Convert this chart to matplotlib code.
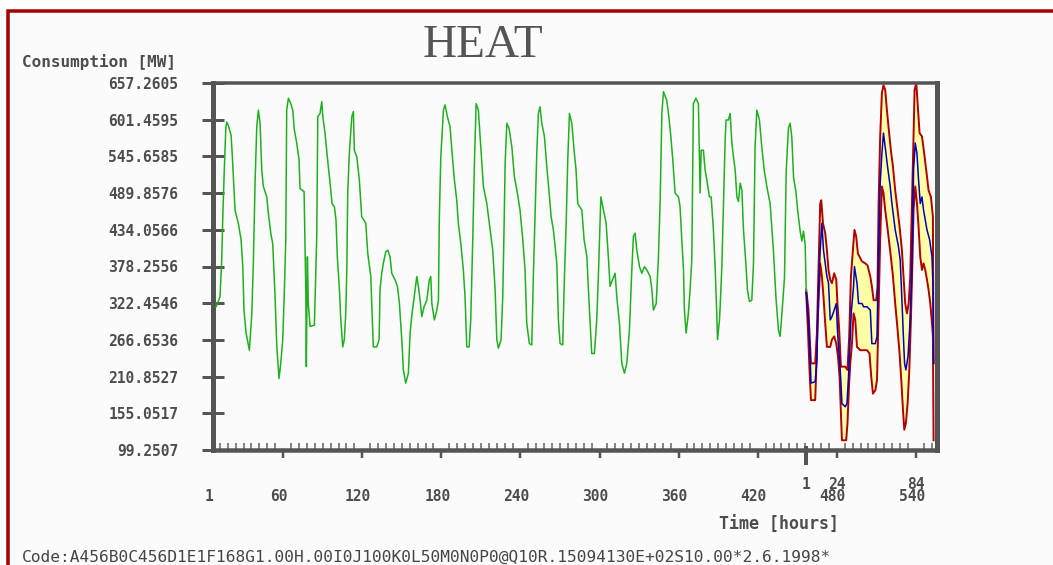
"""HEAT consumption chart: measured history followed by a forecast band."""

import matplotlib

matplotlib.use("Agg")

import matplotlib.pyplot as plt
import matplotlib.transforms as mtransforms
import numpy as np
from matplotlib.patches import Rectangle
from matplotlib.ticker import MultipleLocator


# history (hours on the chart's own scale, MW)
HIST_HOUR = [
    9.1, 12.1, 13.4, 14.2, 15.2, 16.5, 17.2, 18.4, 20.5, 21.5, 23.5, 26.0, 28.1, 29.4, 30.3,
    31.9, 34.4, 36.2, 37.4, 38.7, 40.0, 41.2, 42.5, 43.8, 45.0, 47.6, 48.8, 50.6, 52.1, 53.9,
    55.2, 56.9, 58.2, 59.7, 60.7, 62.0, 62.7, 64.0, 65.8, 67.3, 68.5, 70.3, 72.1, 72.8, 75.9,
    77.2, 77.6, 78.4, 79.1, 80.4, 83.7, 84.2, 85.5, 86.3, 88.0, 89.3, 90.1, 91.8, 93.5, 95.6,
    97.1, 98.9, 100.1, 101.1, 102.7, 103.7, 105.2, 106.4, 107.5, 108.3, 109.0, 110.2, 112.1,
    113.3, 114.0, 115.9, 117.8, 119.6, 122.7, 124.2, 126.5, 127.7, 128.4, 131.0, 132.8, 133.5,
    134.8, 136.0, 137.9, 139.4, 141.1, 142.4, 144.9, 146.7, 148.2, 149.2, 150.2, 151.2, 153.0,
    155.0, 156.3, 157.8, 160.1, 161.4, 162.6, 163.9, 165.2, 166.9, 169.0, 170.9, 172.0, 172.8,
    174.7, 176.6, 177.8, 178.5, 179.6, 181.6, 182.8, 184.6, 186.6, 188.4, 189.9, 191.7, 192.9,
    194.8, 196.7, 198.0, 199.3, 201.1, 202.3, 203.9, 205.1, 206.4, 208.1, 209.4, 211.9, 214.5,
    217.0, 219.0, 220.8, 222.1, 223.3, 225.3, 226.6, 227.6, 228.4, 229.7, 231.4, 233.5, 235.4,
    237.7, 239.7, 241.8, 243.5, 244.8, 246.8, 248.6, 249.8, 251.1, 252.4, 253.6, 254.9, 256.2,
    258.2, 260.0, 261.8, 263.3, 265.0, 267.6, 268.8, 270.1, 272.1, 273.1, 274.7, 275.9, 277.2,
    279.0, 280.7, 282.2, 283.5, 286.6, 288.3, 290.4, 292.1, 294.1, 296.1, 297.9, 299.2, 301.0,
    303.0, 305.0, 306.7, 308.0, 309.8, 311.8, 313.1, 315.1, 316.9, 318.9, 320.7, 322.7, 324.5,
    325.7, 327.0, 328.3, 330.3, 332.1, 334.1, 335.9, 338.4, 339.7, 340.9, 343.0, 344.7, 346.0,
    347.3, 348.5, 351.0, 352.3, 354.1, 355.6, 357.3, 359.9, 361.1, 362.4, 363.7, 364.4, 365.7,
    367.4, 368.7, 370.0, 371.2, 373.1, 375.0, 376.3, 377.1, 378.8, 380.1, 381.4, 383.4, 384.7,
    386.4, 387.7, 389.0, 389.5, 391.0, 391.5, 392.8, 394.0, 395.3, 396.0, 397.8, 399.1, 400.4,
    401.6, 402.9, 404.2, 405.4, 406.7, 408.0, 409.2, 411.0, 412.2, 413.7, 415.5, 416.8, 418.0,
    419.3, 421.3, 423.1, 424.9, 426.9, 429.4, 431.9, 433.8, 435.7, 437.0, 438.3, 440.3, 441.6,
    443.3, 444.6, 445.9, 447.2, 448.9, 450.4, 452.2, 453.5, 454.7, 456.0, 456.8,
]
HIST_MW = [
    317, 332, 386, 452, 515, 588, 598, 593, 578, 545, 464, 444, 419, 378, 312,
    277, 251, 305, 383, 505, 591, 616, 596, 525, 500, 484, 459, 429, 413, 332,
    256, 208, 231, 267, 327, 416, 616, 634, 626, 616, 586, 566, 540, 497, 492,
    340, 226, 393, 322, 287, 289, 327, 424, 606, 611, 629, 606, 581, 545, 505,
    474, 469, 449, 393, 343, 299, 256, 267, 307, 373, 490, 550, 606,
    614, 555, 545, 510, 454, 444, 398, 363, 297, 256, 256, 267, 343,
    368, 383, 401, 403, 393, 368, 358, 348, 322, 292, 261, 221, 201,
    216, 277, 307, 343, 363, 348, 327, 302, 317, 327, 358, 363, 322,
    297, 312, 327, 454, 545, 616, 624, 606, 591, 545, 510, 479, 444,
    413, 373, 332, 256, 256, 297, 424, 535, 626, 616, 576, 500, 474,
    434, 403, 343, 267, 254, 267, 332, 439, 535, 596, 588, 560, 515,
    490, 464, 419, 373, 292, 261, 259, 363, 454, 550, 611, 621, 596,
    576, 530, 490, 454, 434, 383, 297, 261, 259, 343, 444, 540, 611,
    596, 555, 525, 474, 464, 419, 393, 322, 246, 246, 297, 368, 484,
    464, 444, 393, 348, 358, 368, 332, 292, 231, 216, 231, 282, 373,
    424, 429, 403, 378, 368, 378, 373, 363, 343, 312, 322, 393, 479,
    611, 644, 631, 611, 576, 540, 490, 484, 469, 419, 373, 312, 277,
    307, 343, 388, 626, 634, 626, 490, 555, 555, 525, 510, 484, 484,
    434, 378, 302, 267, 297, 317, 378, 469, 571, 601, 601, 611, 566,
    545, 525, 484, 477, 505, 494, 434, 383, 343, 325, 327, 383, 560,
    616, 601, 560, 525, 500, 474, 403, 332, 282, 272, 305, 361, 523,
    589, 596, 574, 513, 493, 462, 432, 417, 432, 411, 341,
]

# forecast hour 1 sits right where the history ends
FORECAST_OFFSET = 455.8

FC_MEAN_HOUR = [
    1.0, 2.7, 4.0, 4.6, 7.8, 9.1, 10.3, 11.6, 12.9, 14.1, 15.4, 16.7, 17.9, 19.2, 20.5,
    22.2, 23.8, 24.7, 25.5, 26.8, 28.1, 30.6, 31.9, 33.1, 34.4, 35.1, 36.9, 37.6, 39.5, 40.7,
    43.3, 44.5, 47.1, 49.6, 50.8, 53.4, 54.7, 55.4, 56.4, 57.1, 58.4, 59.6, 60.9, 62.7, 64.7,
    66.0, 68.5, 71.0, 72.3, 73.6, 74.8, 75.6, 76.6, 78.2, 79.4, 80.7, 81.7, 82.4, 83.7, 85.0,
    86.2, 87.5, 88.8, 90.0, 91.3, 92.6, 94.6, 96.4, 97.1, 97.6,
]
FC_MEAN_MW = [
    340, 292, 241, 201, 203, 236, 343, 403, 444, 403, 383, 363, 353, 297, 302,
    312, 322, 282, 256, 221, 170, 165, 170, 211, 272, 307, 348, 378, 353, 322,
    322, 317, 317, 312, 261, 261, 272, 353, 444, 505, 550, 581, 560, 530, 500,
    474, 434, 408, 388, 327, 267, 231, 221, 241, 282, 348, 429, 525, 566, 550,
    510, 474, 484, 464, 449, 434, 419, 393, 353, 231,
]

FC_UPPER_HOUR = [
    1.0, 2.7, 4.0, 4.6, 7.8, 9.1, 10.3, 11.6, 12.4, 13.7, 15.4, 16.7, 17.9, 19.2, 20.5,
    22.2, 23.8, 24.7, 26.0, 27.3, 30.6, 32.3, 33.6, 34.9, 36.4, 37.6, 38.9, 40.2, 43.3, 45.8,
    47.5, 49.6, 50.8, 52.1, 54.1, 55.1, 55.9, 57.1, 58.4, 59.6, 60.9, 62.2, 63.4, 65.2, 66.8,
    68.5, 70.3, 71.8, 73.6, 74.8, 76.1, 77.4, 78.7, 79.9, 81.2, 82.4, 83.2, 84.5, 85.5, 87.0,
    88.8, 90.5, 92.6, 93.8, 95.6, 97.1, 97.6,
]
FC_UPPER_MW = [
    343, 312, 256, 231, 231, 277, 373, 474, 479, 444, 429, 403, 373, 358, 353,
    368, 358, 322, 282, 226, 226, 221, 272, 363, 403, 434, 424, 398, 386, 383,
    380, 363, 348, 327, 327, 348, 474, 576, 642, 654, 647, 616, 591, 555, 530,
    494, 464, 439, 403, 363, 322, 307, 322, 363, 474, 576, 647, 657, 626, 581,
    576, 550, 515, 494, 484, 454, 231,
]

FC_LOWER_HOUR = [
    1.0, 2.3, 3.5, 4.6, 7.8, 8.6, 9.6, 10.9, 11.6, 12.9, 14.1, 15.4, 16.7, 19.2, 20.5,
    22.2, 23.8, 25.1, 26.3, 27.6, 28.1, 31.3, 32.3, 33.4, 34.4, 35.7, 36.9, 38.2, 39.5, 42.0,
    47.1, 49.0, 50.3, 51.6, 53.4, 54.7, 55.9, 57.1, 58.4, 59.6, 60.9, 62.2, 63.4, 65.2, 66.8,
    68.5, 70.3, 71.8, 73.1, 74.4, 75.4, 76.6, 77.9, 79.2, 80.4, 81.4, 82.4, 83.7, 85.0, 86.2,
    87.5, 88.8, 90.0, 91.3, 92.6, 93.8, 95.1, 96.4, 97.1, 97.6,
]
FC_LOWER_MW = [
    338, 282, 221, 175, 175, 221, 292, 348, 383, 363, 332, 292, 256, 256, 267,
    272, 261, 241, 211, 140, 114, 114, 140, 195, 231, 261, 307, 297, 256, 251,
    251, 246, 211, 185, 190, 206, 312, 419, 500, 490, 464, 444, 424, 393, 363,
    322, 282, 246, 206, 160, 130, 140, 170, 221, 297, 373, 464, 500, 474, 439,
    393, 373, 383, 373, 358, 343, 322, 292, 272, 114,
]

Y_TICKS = [99.2507, 155.0517, 210.8527, 266.6536, 322.4546, 378.2556,
           434.0566, 489.8576, 545.6585, 601.4595, 657.2605]
Y_TICK_LABELS = ["99.2507", "155.0517", "210.8527", "266.6536", "322.4546", "378.2556",
                 "434.0566", "489.8576", "545.6585", "601.4595", "657.2605"]

X_TICKS = [60, 120, 180, 240, 300, 360, 420, 480, 540]
X_TICK_LABELS = ["60", "120", "180", "240", "300", "360", "420", "480", "540"]
FC_TICKS = [1, 24, 84]
FC_TICK_LABELS = ["1", "24", "84"]

CODE_TEXT = "Code:A456B0C456D1E1F168G1.00H.00I0J100K0L50M0N0P0@Q10R.15094130E+02S10.00*2.6.1998*"

W, H = 1053, 565
PT = 72 / 100  # points per pixel at dpi 100
MONO = "DejaVu Sans Mono"
GRAY = "#555555"
TEXT_GRAY = "#4d4d4d"


def plot_heat(path="out.png"):
    fig = plt.figure(figsize=(W / 100, H / 100), dpi=100, facecolor="white")

    # window frame: dark red edge on the left and top
    fig.patches.append(
        Rectangle(
            (8 / W, -0.1), 1.2, 1.1 - 11 / H,
            transform=fig.transFigure, facecolor="#fbfbfb",
            edgecolor="#a80000", linewidth=3.5 * PT, zorder=-5,
        )
    )

    ax = fig.add_axes([213 / W, 1 - 450 / H, (937 - 213) / W, (450 - 83) / H])
    ax.set_zorder(2)
    ax.patch.set_visible(False)

    x_first = 6.8
    ax.set_xlim(x_first, 556)
    ax.set_ylim(Y_TICKS[0], Y_TICKS[-1])

    fc_x = lambda hours: np.asarray(hours) + FORECAST_OFFSET

    ax.fill(
        np.r_[fc_x(FC_UPPER_HOUR), fc_x(FC_LOWER_HOUR)[::-1]],
        np.r_[FC_UPPER_MW, FC_LOWER_MW[::-1]],
        facecolor="#ffffa6", edgecolor="none", zorder=1,
    )
    ax.plot(fc_x(FC_UPPER_HOUR), FC_UPPER_MW, color="#b00000", linewidth=1.4, zorder=2)
    ax.plot(fc_x(FC_LOWER_HOUR), FC_LOWER_MW, color="#b00000", linewidth=1.4, zorder=2)
    ax.plot(fc_x(FC_MEAN_HOUR), FC_MEAN_MW, color="#0000b8", linewidth=1.1, zorder=3)
    ax.plot(HIST_HOUR, HIST_MW, color="#1fb01f", linewidth=1.1, zorder=3)

    for side in ("left", "right"):
        ax.spines[side].set_linewidth(5 * PT)
    ax.spines["top"].set_linewidth(3.5 * PT)
    ax.spines["bottom"].set_linewidth(4.5 * PT)
    for spine in ax.spines.values():
        spine.set_color(GRAY)

    ax.set_yticks(Y_TICKS, Y_TICK_LABELS)
    ax.tick_params(
        axis="y", direction="inout", length=22 * PT, width=3 * PT, color=GRAY,
        pad=17, labelsize=10.5, labelcolor=TEXT_GRAY,
    )
    for label in ax.get_yticklabels():
        label.set_fontfamily(MONO)
        label.set_fontweight("bold")

    ax.set_xticks(X_TICKS)
    ax.xaxis.set_minor_locator(MultipleLocator(6))
    ax.tick_params(axis="x", which="major", direction="out", length=8 * PT,
                   width=2.5 * PT, color=GRAY, labelbottom=False)
    ax.tick_params(axis="x", which="minor", direction="in", length=7 * PT,
                   width=1.5 * PT, color="#5f5f5f")

    # history labels sit a little left of their ticks
    hist_trans = ax.get_xaxis_transform() + mtransforms.ScaledTranslation(
        -4 / 100, 0, fig.dpi_scale_trans)
    label_kw = dict(ha="center", va="center", fontfamily=MONO, fontweight="bold",
                    fontsize=10.5, color=TEXT_GRAY, clip_on=False)
    ax.text(x_first, -0.128, "1", transform=hist_trans, **label_kw)
    for tick, label in zip(X_TICKS, X_TICK_LABELS):
        ax.text(tick, -0.128, label, transform=hist_trans, **label_kw)
    for tick, label in zip(FC_TICKS, FC_TICK_LABELS):
        ax.text(tick + FORECAST_OFFSET, -0.093, label,
                transform=ax.get_xaxis_transform(), **label_kw)

    # marker where the forecast starts
    ax.vlines(FORECAST_OFFSET + 1, -0.04, 0.01, transform=ax.get_xaxis_transform(),
              color=GRAY, linewidth=4 * PT, clip_on=False)

    fig.text(483 / W, 1 - 46 / H, "HEAT", ha="center", va="center",
             fontfamily="Liberation Serif", fontsize=34, color="#555555")
    fig.text(22 / W, 1 - 67 / H, "Consumption [MW]", ha="left", va="baseline",
             fontfamily=MONO, fontweight="bold", fontsize=11.5, color=TEXT_GRAY)
    fig.text(779 / W, 1 - 525 / H, "Time [hours]", ha="center", va="center",
             fontfamily=MONO, fontweight="bold", fontsize=12, color=TEXT_GRAY)
    fig.text(22 / W, 1 - 562 / H, CODE_TEXT, ha="left", va="baseline",
             fontfamily=MONO, fontsize=11.7, color="#454545")

    fig.savefig(path, dpi=100, facecolor=fig.get_facecolor())
    plt.close(fig)


if __name__ == "__main__":
    plot_heat()
